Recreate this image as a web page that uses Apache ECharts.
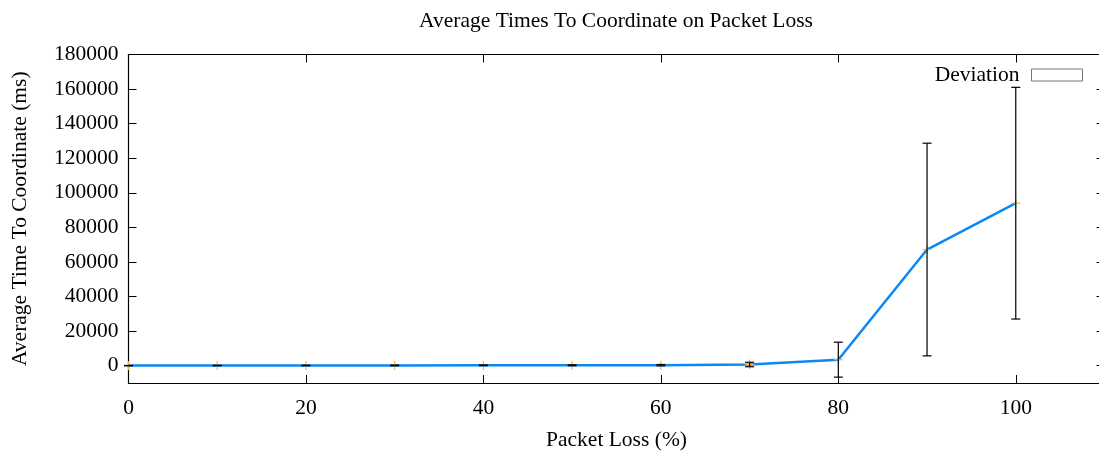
<!DOCTYPE html>
<html>
<head>
<meta charset="utf-8">
<title>Average Times To Coordinate on Packet Loss</title>
<script src="https://cdn.jsdelivr.net/npm/echarts@6/dist/echarts.min.js"></script>
<style>
  html, body { margin: 0; padding: 0; background: #fff; overflow: hidden; }
  /* the frame runs a few pixels past the right edge of the window */
  #chart { width: 1108px; height: 458px; }
</style>
</head>
<body>
<div id="chart"></div>
<script>
// Packet loss levels (%)
const packetLoss = [0, 10, 20, 30, 40, 50, 60, 70, 80, 90, 100];
// Mean time to coordinate (ms)
const avgTime = [50, 120, 150, 180, 220, 250, 300, 700, 3500, 67200, 94000];
// Standard deviation of the time to coordinate (ms)
const deviation = [100, 150, 150, 200, 200, 250, 400, 1300, 10100, 61500, 67000];
// Tick positions
const xTicks = [0, 20, 40, 60, 80, 100];
const yTicks = [0, 20000, 40000, 60000, 80000, 100000, 120000, 140000, 160000, 180000];

const FONT = '"Liberation Serif", "DejaVu Serif", serif';
const FS = 21.5;

const points = packetLoss.map((x, i) => [x, avgTime[i], deviation[i]]);

const chart = echarts.init(document.getElementById('chart'), null, { renderer: 'canvas' });

function errorBar(params, api) {
  const x = api.value(0), y = api.value(1), d = api.value(2);
  const top = api.coord([x, y + d]);
  const bot = api.coord([x, y - d]);
  const hw = 4.5;
  const st = { stroke: '#000', lineWidth: 1.2 };
  return {
    type: 'group',
    children: [
      { type: 'line', shape: { x1: top[0], y1: top[1], x2: bot[0], y2: bot[1] }, style: st },
      { type: 'line', shape: { x1: top[0] - hw, y1: top[1], x2: top[0] + hw, y2: top[1] }, style: st },
      { type: 'line', shape: { x1: bot[0] - hw, y1: bot[1], x2: bot[0] + hw, y2: bot[1] }, style: st }
    ]
  };
}

function plusMark(params, api) {
  const c = api.coord([api.value(0), api.value(1)]);
  const r = 4.5;
  const st = { stroke: '#f5b342', lineWidth: 1.2 };
  return {
    type: 'group',
    children: [
      { type: 'line', shape: { x1: c[0], y1: c[1] - r, x2: c[0], y2: c[1] + r }, style: st },
      { type: 'line', shape: { x1: c[0] - r, y1: c[1], x2: c[0] + r, y2: c[1] }, style: st }
    ]
  };
}

const plain = v => String(v);
const axisLine = { show: true, onZero: false, lineStyle: { color: '#000', width: 1.2 } };
const tickInside = { show: true, inside: true, length: 8, lineStyle: { color: '#000', width: 1 } };

chart.setOption({
  animation: false,
  backgroundColor: '#fff',
  title: {
    text: 'Average Times To Coordinate on Packet Loss',
    left: 611,
    textAlign: 'center',
    top: 5,
    textStyle: { fontFamily: FONT, fontSize: FS, fontWeight: 'normal', color: '#000' }
  },
  legend: {
    right: 20,
    top: 59,
    align: 'right',
    itemWidth: 51,
    itemHeight: 12,
    selectedMode: false,
    textStyle: { fontFamily: FONT, fontSize: FS, color: '#000', padding: [0, 7, 0, 0] },
    data: [{
      name: 'Deviation',
      icon: 'rect',
      itemStyle: { color: '#fff', borderColor: '#777', borderWidth: 1 }
    }]
  },
  grid: { left: 128.5, top: 54.5, right: 3.5, bottom: 75, containLabel: false },
  xAxis: [{
    type: 'value',
    min: 0, max: 110, interval: 20,
    position: 'bottom',
    name: 'Packet Loss (%)',
    nameLocation: 'middle',
    nameGap: 46,
    nameTextStyle: { fontFamily: FONT, fontSize: FS, color: '#000' },
    axisLine: axisLine,
    axisTick: Object.assign({ customValues: xTicks }, tickInside),
    axisLabel: {
      customValues: xTicks,
      formatter: plain,
      margin: 14,
      fontFamily: FONT, fontSize: FS, color: '#000'
    },
    splitLine: { show: false }
  }, {
    type: 'value',
    min: 0, max: 110, interval: 20,
    position: 'top',
    axisLine: axisLine,
    axisTick: Object.assign({ customValues: xTicks }, tickInside),
    axisLabel: { show: false },
    splitLine: { show: false }
  }],
  yAxis: [{
    type: 'value',
    min: -10000, max: 180000,
    position: 'left',
    name: 'Average Time To Coordinate (ms)',
    nameLocation: 'middle',
    nameGap: 97,
    nameTextStyle: { fontFamily: FONT, fontSize: FS, color: '#000' },
    axisLine: axisLine,
    axisTick: Object.assign({ customValues: yTicks }, tickInside),
    axisLabel: {
      customValues: yTicks,
      formatter: plain,
      margin: 10,
      fontFamily: FONT, fontSize: FS, color: '#000'
    },
    splitLine: { show: false }
  }, {
    type: 'value',
    min: -10000, max: 180000,
    position: 'right',
    axisLine: axisLine,
    axisTick: Object.assign({ customValues: yTicks }, tickInside),
    axisLabel: { show: false },
    splitLine: { show: false }
  }],
  series: [{
    name: 'Average',
    type: 'line',
    data: points.map(p => [p[0], p[1]]),
    showSymbol: false,
    lineStyle: { color: '#0a88f5', width: 2.5 },
    z: 2
  }, {
    name: 'Points',
    type: 'custom',
    data: points,
    renderItem: plusMark,
    z: 3
  }, {
    name: 'Deviation',
    type: 'custom',
    data: points,
    renderItem: errorBar,
    itemStyle: { color: '#fff', borderColor: '#777' },
    z: 4
  }]
});
</script>
</body>
</html>
